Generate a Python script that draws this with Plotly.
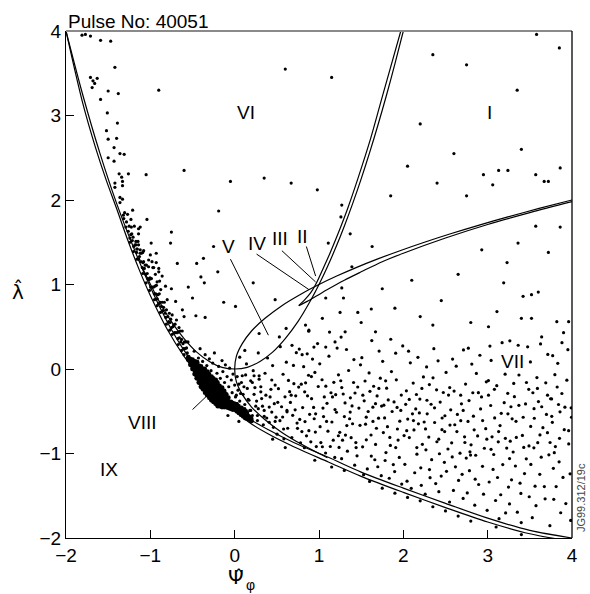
import plotly.graph_objects as go

# ---------------- curves ----------------
main_outer = [(-2.0, 4.0), (-1.8, 3.14), (-1.65, 2.62), (-1.523, 2.235), (-1.4, 1.9), (-1.268, 1.526),
              (-1.13, 1.17), (-1.0, 0.87), (-0.8, 0.47), (-0.6, 0.15), (-0.4, -0.11), (-0.2, -0.32),
              (0.0, -0.49), (0.17, -0.63), (0.4, -0.77), (0.7, -0.92), (1.11, -1.1), (1.5, -1.27),
              (2.0, -1.46), (2.5, -1.64), (3.0, -1.81), (3.5, -1.95), (4.0, -2.04)]
main_inner = [(-2.0, 4.0), (-1.8, 3.24), (-1.6, 2.56), (-1.4, 1.96), (-1.2, 1.44), (-1.0, 0.97),
              (-0.8, 0.56), (-0.6, 0.22), (-0.4, -0.05), (-0.2, -0.26), (0.0, -0.44), (0.17, -0.585),
              (0.4, -0.72), (0.7, -0.87), (1.11, -1.045), (1.5, -1.22), (2.0, -1.41), (2.5, -1.59),
              (3.0, -1.765), (3.5, -1.91), (4.0, -2.0)]
parabola_up = [(-1.1, 1.21), (-0.9, 0.81), (-0.75, 0.56), (-0.6, 0.36), (-0.45, 0.2), (-0.3, 0.09),
               (-0.15, 0.02), (0.0, 0.0), (0.15, 0.02), (0.3, 0.09), (0.45, 0.2), (0.6, 0.36),
               (0.75, 0.56), (0.9, 0.81), (1.0, 1.0), (1.1, 1.21), (1.2, 1.44), (1.3, 1.69),
               (1.4, 1.96), (1.5, 2.25), (1.6, 2.56), (1.7, 2.89), (1.8, 3.24), (1.9, 3.61), (2.0, 4.0)]
parabola_side = [(1.1, -1.05), (0.81, -0.9), (0.56, -0.75), (0.36, -0.6), (0.2, -0.45), (0.09, -0.3),
                 (0.02, -0.15), (0.0, 0.0), (0.02, 0.15), (0.09, 0.3), (0.2, 0.45), (0.36, 0.6),
                 (0.56, 0.75), (0.81, 0.9), (1.0, 1.0), (1.21, 1.1), (1.44, 1.2), (1.69, 1.3),
                 (1.96, 1.4), (2.25, 1.5), (2.56, 1.6), (2.89, 1.7), (3.24, 1.8), (3.61, 1.9), (4.0, 2.0)]
cusp_steep = [(0.76, 0.75), (0.84, 0.83), (0.9, 0.9), (0.96, 1.0), (1.04, 1.17), (1.13, 1.37),
              (1.225, 1.6), (1.34, 1.9), (1.46, 2.25), (1.61, 2.72), (1.75, 3.22), (1.97, 4.0)]
cusp_flat = [(0.76, 0.75), (0.86, 0.8), (0.98, 0.87), (1.1, 0.94), (1.3, 1.05), (1.5, 1.15),
             (1.75, 1.27), (2.0, 1.37), (2.5, 1.55), (3.0, 1.71), (3.5, 1.85), (4.0, 1.98)]

# ---------------- scattered points ----------------
pts_vi = [(-1.81, 3.95), (-1.77, 3.96), (-1.71, 3.94), (-1.59, 3.89), (-1.47, 3.88), (-1.42, 3.57),
          (-1.71, 3.45), (-1.68, 3.41), (-1.63, 3.44), (-1.66, 3.38), (-1.69, 3.33), (-1.50, 3.29),
          (-1.38, 3.26), (-1.59, 3.19), (-1.51, 3.03), (-1.39, 2.91), (-1.52, 2.82), (-1.50, 2.72),
          (-1.40, 2.73), (-1.43, 2.62), (-1.36, 2.55), (-1.31, 2.54), (-1.50, 2.50), (-1.43, 2.46),
          (-1.37, 2.31), (-1.34, 2.27), (-1.26, 2.31), (-1.05, 2.30), (-1.42, 2.20), (-1.33, 2.22),
          (-1.33, 2.17), (-1.42, 2.15), (-1.36, 2.03), (-1.33, 2.01), (-1.36, 1.97), (-1.21, 1.88),
          (-1.32, 1.82), (-1.04, 1.77), (-1.23, 1.77), (-1.14, 1.66), (-1.12, 1.68), (-1.22, 1.60),
          (-1.14, 1.60), (-1.17, 1.47), (-1.14, 1.47), (-1.16, 1.42), (-1.12, 1.41), (-0.99, 1.49),
          (-0.76, 1.49), (-1.09, 1.38), (-0.93, 1.37), (-1.08, 1.27), (-1.02, 1.29), (-0.98, 1.27),
          (-0.93, 1.26), (-0.96, 1.20), (-0.90, 1.19), (-0.94, 1.12), (-0.89, 1.04), (-0.92, 1.03),
          (-0.45, 1.25), (0.6, 3.55), (-0.19, 1.87), (-0.37, 1.31), (-0.40, 1.09), (-0.36, 1.02),
          (-0.50, 0.84), (-0.13, 0.79), (0.01, 0.74), (-0.62, 0.70), (-0.46, 0.63), (-0.35, 0.61),
          (-0.66, 0.49), (0.48, 0.82), (1.27, 1.94), (1.26, 1.80), (1.11, 1.49), (-0.05, 2.22),
          (0.35, 2.26), (0.67, 2.20), (0.98, 2.12), (-0.75, 1.62), (-0.25, 1.45), (-0.68, 1.25),
          (-0.55, 0.97), (-0.2, 1.15), (0.22, 1.02), (-0.9, 3.3), (1.15, 3.45), (-0.6, 2.35),
          (0.29, 0.42), (0.53, 0.38), (0.61, 0.48), (0.12, 0.22)]
pts_i = [(2.95, 2.30), (3.13, 2.35), (3.24, 2.35), (3.57, 2.30), (3.86, 2.38), (3.06, 2.18),
         (3.67, 2.22), (3.72, 2.22), (1.63, 1.45), (1.37, 1.60), (1.39, 1.21), (3.58, 3.96),
         (3.85, 3.80), (2.35, 3.72), (2.75, 3.60), (2.2, 2.9), (2.6, 2.55), (3.4, 2.6),
         (2.4, 2.2), (2.75, 2.05), (3.35, 3.3), (2.05, 2.4), (1.85, 2.05)]
pts_edge = [(-1.315, 1.78), (-1.305, 1.85), (-1.29, 1.68), (-1.283, 1.74), (-1.27, 1.83), (-1.262, 1.63),
            (-1.251, 1.69), (-1.243, 1.55), (-1.232, 1.59), (-1.225, 1.68), (-1.214, 1.52), (-1.205, 1.56),
            (-1.196, 1.45), (-1.19, 1.69), (-1.182, 1.47), (-1.171, 1.51), (-1.163, 1.38), (-1.155, 1.42),
            (-1.146, 1.51), (-1.138, 1.30), (-1.129, 1.33), (-1.121, 1.37), (-1.112, 1.27), (-1.104, 1.37),
            (-1.095, 1.20), (-1.088, 1.26), (-1.079, 1.40), (-1.071, 1.19), (-1.062, 1.23), (-1.054, 1.12),
            (-1.046, 1.23), (-1.037, 1.13), (-1.029, 1.07), (-1.021, 1.21), (-1.012, 1.06), (-1.004, 1.08),
            (-0.996, 0.97), (-0.987, 1.07), (-0.979, 0.97), (-0.970, 1.20), (-0.962, 0.97), (-0.953, 0.89),
            (-0.945, 0.98), (-0.936, 0.89), (-0.928, 0.99), (-0.919, 0.83), (-0.911, 0.88), (-0.902, 0.77),
            (-0.894, 0.89), (-0.885, 0.79), (-0.877, 0.94), (-0.868, 0.74), (-0.86, 0.79), (-0.851, 0.69),
            (-0.843, 0.73), (-0.834, 0.79), (-0.826, 0.66), (-0.817, 0.61), (-0.809, 0.70), (-0.80, 0.82),
            (-0.792, 0.62), (-0.783, 0.56), (-0.775, 0.66), (-0.766, 0.55), (-0.758, 0.59), (-0.749, 0.49),
            (-0.741, 0.64), (-0.732, 0.50), (-0.724, 0.52), (-0.715, 0.43), (-0.707, 0.53), (-0.698, 0.43),
            (-0.69, 0.58), (-0.681, 0.43), (-0.673, 0.36), (-0.664, 0.44), (-0.656, 0.37), (-0.647, 0.45),
            (-0.639, 0.32), (-0.630, 0.35), (-0.622, 0.45), (-0.613, 0.30), (-0.605, 0.24), (-0.596, 0.32),
            (-0.588, 0.24), (-0.579, 0.32), (-0.571, 0.25), (-0.562, 0.19), (-0.554, 0.32),
            (-1.24, 1.50), (-1.16, 1.30), (-1.09, 1.13), (-1.01, 0.93), (-0.95, 0.82), (-0.88, 0.67),
            (-0.81, 0.53), (-0.74, 0.41), (-0.67, 0.29), (-0.60, 0.17), (-1.20, 1.39), (-1.05, 1.02),
            (-0.92, 0.75), (-0.77, 0.46), (-0.63, 0.22), (-1.0, 1.35), (-0.9, 1.15), (-0.82, 0.98),
            (-0.7, 0.8), (-0.6, 0.62), (-0.86, 1.1), (-0.75, 0.95)]
pts_blob = [(-0.55, 0.11), (-0.55, 0.14), (-0.525, 0.05), (-0.52, 0.09), (-0.53, 0.12),
            (-0.50, 0.00), (-0.505, 0.04), (-0.495, 0.08), (-0.50, 0.11),
            (-0.475, -0.06), (-0.47, -0.02), (-0.48, 0.02), (-0.475, 0.06), (-0.47, 0.09),
            (-0.45, -0.11), (-0.455, -0.07), (-0.445, -0.03), (-0.45, 0.01), (-0.45, 0.05), (-0.445, 0.08),
            (-0.425, -0.16), (-0.42, -0.12), (-0.43, -0.08), (-0.425, -0.04), (-0.42, 0.00), (-0.425, 0.04),
            (-0.40, -0.21), (-0.405, -0.17), (-0.395, -0.13), (-0.40, -0.09), (-0.40, -0.05), (-0.395, -0.01), (-0.40, 0.03),
            (-0.375, -0.24), (-0.37, -0.20), (-0.38, -0.16), (-0.375, -0.12), (-0.37, -0.08), (-0.375, -0.04), (-0.38, 0.00),
            (-0.35, -0.28), (-0.355, -0.24), (-0.345, -0.20), (-0.35, -0.16), (-0.35, -0.12), (-0.345, -0.08), (-0.35, -0.04), (-0.355, 0.00),
            (-0.325, -0.31), (-0.32, -0.27), (-0.33, -0.23), (-0.325, -0.19), (-0.32, -0.15), (-0.325, -0.11), (-0.33, -0.07), (-0.325, -0.03),
            (-0.30, -0.34), (-0.305, -0.30), (-0.295, -0.26), (-0.30, -0.22), (-0.30, -0.18), (-0.295, -0.14), (-0.30, -0.10), (-0.305, -0.06),
            (-0.275, -0.37), (-0.27, -0.33), (-0.28, -0.29), (-0.275, -0.25), (-0.27, -0.21), (-0.275, -0.17), (-0.28, -0.13), (-0.275, -0.09),
            (-0.25, -0.39), (-0.255, -0.35), (-0.245, -0.31), (-0.25, -0.27), (-0.25, -0.23), (-0.245, -0.19), (-0.25, -0.15), (-0.255, -0.11),
            (-0.225, -0.41), (-0.22, -0.37), (-0.23, -0.33), (-0.225, -0.29), (-0.22, -0.25), (-0.225, -0.21), (-0.23, -0.16), (-0.225, -0.13),
            (-0.20, -0.44), (-0.205, -0.40), (-0.195, -0.36), (-0.20, -0.32), (-0.20, -0.28), (-0.195, -0.24), (-0.20, -0.19), (-0.205, -0.16),
            (-0.175, -0.44), (-0.17, -0.40), (-0.18, -0.36), (-0.175, -0.32), (-0.17, -0.28), (-0.175, -0.24), (-0.18, -0.20),
            (-0.15, -0.45), (-0.155, -0.41), (-0.145, -0.37), (-0.15, -0.33), (-0.15, -0.29), (-0.145, -0.25), (-0.15, -0.22),
            (-0.125, -0.45), (-0.12, -0.41), (-0.13, -0.37), (-0.125, -0.33), (-0.12, -0.29), (-0.125, -0.26),
            (-0.10, -0.45), (-0.105, -0.41), (-0.095, -0.37), (-0.10, -0.33), (-0.10, -0.30),
            (-0.075, -0.46), (-0.07, -0.42), (-0.08, -0.38), (-0.075, -0.34),
            (-0.05, -0.47), (-0.055, -0.43), (-0.045, -0.39),
            (-0.025, -0.48), (-0.02, -0.44), (-0.03, -0.40),
            (0.0, -0.48), (0.005, -0.44), (-0.005, -0.41),
            (0.025, -0.50), (0.03, -0.46), (0.02, -0.42),
            (0.05, -0.52), (0.055, -0.48), (0.045, -0.44),
            (0.075, -0.54), (0.07, -0.50), (0.08, -0.46),
            (0.10, -0.56), (0.105, -0.52), (0.095, -0.48),
            (0.125, -0.58), (0.12, -0.54), (0.13, -0.50),
            (0.15, -0.59), (0.155, -0.555), (0.145, -0.52),
            (0.175, -0.60), (0.17, -0.565), (0.20, -0.615), (0.195, -0.585)]
pts_near = [(-0.48, 0.21), (-0.43, 0.13), (-0.41, 0.24), (-0.38, 0.09), (-0.35, 0.17), (-0.33, 0.04),
            (-0.30, 0.12), (-0.28, -0.02), (-0.26, 0.07), (-0.24, 0.19), (-0.21, -0.05), (-0.19, 0.03),
            (-0.17, -0.11), (-0.15, 0.10), (-0.14, -0.03), (-0.12, -0.16), (-0.11, 0.05), (-0.09, -0.09),
            (-0.07, -0.21), (-0.06, 0.01), (-0.04, -0.13), (-0.03, -0.28), (-0.02, -0.06), (0.00, -0.19),
            (0.01, -0.33), (0.03, -0.09), (0.04, -0.25), (0.06, -0.38), (0.08, -0.16), (0.10, -0.30),
            (0.12, -0.42), (0.13, -0.07), (0.15, -0.23), (0.17, -0.37), (0.19, -0.49), (0.21, -0.16),
            (0.23, -0.30), (0.25, -0.44), (0.27, -0.55), (0.29, -0.08), (-0.46, -0.05), (-0.36, -0.22),
            (-0.22, -0.42), (-0.08, -0.55), (0.05, -0.62)]
pts_vii = [
    # 0.0 - 0.5
    (0.03, -0.41), (0.07, -0.29), (0.12, -0.47), (0.05, -0.18), (0.16, -0.36), (0.21, -0.55), (0.09, -0.08),
    (0.24, -0.22), (0.18, -0.49), (0.02, -0.31), (0.27, -0.61), (0.33, -0.44), (0.29, -0.12), (0.38, -0.58),
    (0.42, -0.33), (0.31, -0.27), (0.46, -0.69), (0.36, -0.05), (0.44, -0.51), (0.26, -0.38), (0.48, -0.19),
    (0.14, 0.06), (0.39, 0.13), (0.34, -0.66), (0.47, -0.41), (0.22, -0.02), (0.41, -0.63), (0.11, -0.21),
    (0.28, 0.19), (0.45, 0.04), (0.35, -0.49), (0.19, -0.14), (0.43, -0.24), (0.06, 0.14), (0.49, -0.57),
    (0.32, -0.35), (0.31, -0.21), (0.37, -0.31), (0.44, -0.13), (0.28, -0.47), (0.41, -0.45),
    (0.23, -0.08), (0.48, -0.62), (0.35, -0.56),
    # 0.5 - 0.75
    (0.537, -0.612), (0.702, -0.174), (0.584, -0.826), (0.661, -0.395), (0.519, -0.233), (0.745, -0.702),
    (0.613, 0.081), (0.688, -0.548), (0.556, -0.447), (0.629, -0.701), (0.731, 0.193), (0.574, -0.062),
    (0.652, -0.268), (0.503, -0.771), (0.717, -0.483), (0.597, -0.329), (0.678, -0.812), (0.541, 0.264),
    (0.638, -0.135), (0.724, -0.318), (0.569, -0.568), (0.697, 0.042), (0.621, -0.507), (0.511, -0.394),
    # 0.75 - 1.0
    (0.781, -0.873), (0.912, -0.351), (0.834, -0.622), (0.968, -0.918), (0.759, -0.214), (0.876, -0.074),
    (0.943, -0.589), (0.806, -0.456), (0.991, -0.207), (0.852, -0.791), (0.923, 0.118), (0.772, -0.597),
    (0.889, -0.536), (0.957, -0.746), (0.818, 0.027), (0.864, -0.318), (0.936, -0.455), (0.797, -0.741),
    (0.983, 0.301), (0.841, -0.164), (0.903, -0.862), (0.766, 0.236), (0.951, -0.041), (0.827, -0.932),
    (0.878, 0.447),
    # 1.0 - 1.25
    (1.013, -0.683), (1.142, -0.281), (1.078, -0.994), (1.207, -0.512), (1.036, -0.127), (1.169, -0.842),
    (1.095, -0.406), (1.231, -0.069), (1.054, -0.563), (1.187, -1.047), (1.118, 0.152), (1.022, -0.871),
    (1.246, -0.749), (1.081, -0.203), (1.153, -0.627), (1.215, 0.248), (1.063, -0.331), (1.134, -0.917),
    (1.198, -0.304), (1.009, 0.061), (1.176, -0.158), (1.106, -0.736), (1.238, -0.928), (1.047, -0.462),
    (1.125, 0.437),
    # 1.25 - 1.5
    (1.268, -1.061), (1.392, -0.437), (1.314, -0.782), (1.459, -0.213), (1.287, -0.296), (1.423, -1.138),
    (1.351, -0.018), (1.486, -0.667), (1.301, -0.563), (1.437, -0.871), (1.372, -0.341), (1.258, -0.139),
    (1.414, 0.112), (1.337, -0.972), (1.473, -0.462), (1.279, -0.842), (1.398, -0.648), (1.326, 0.231),
    (1.451, -1.027), (1.363, -0.589), (1.492, 0.049), (1.309, -0.401), (1.427, -0.284), (1.381, -0.813),
    (1.262, 0.378),
    # 1.5 - 1.75
    (1.517, -0.921), (1.648, -0.204), (1.573, -1.183), (1.706, -0.582), (1.536, -0.377), (1.671, -0.893),
    (1.594, -0.047), (1.738, -1.262), (1.552, -0.653), (1.689, -0.319), (1.617, -0.781), (1.508, 0.134),
    (1.727, -0.108), (1.583, -0.503), (1.662, -1.074), (1.529, -1.251), (1.713, 0.212), (1.604, -0.264),
    (1.681, -0.701), (1.546, -0.142), (1.742, -0.439), (1.626, 0.336), (1.561, -0.838), (1.697, -1.157),
    (1.639, -0.452),
    # 1.75 - 2.0
    (1.763, -0.752), (1.897, -1.214), (1.821, -0.366), (1.958, -0.617), (1.784, -1.083), (1.917, -0.128),
    (1.846, -0.904), (1.981, -1.362), (1.802, -0.227), (1.938, -0.841), (1.867, -0.503), (1.755, 0.091),
    (1.976, -0.309), (1.833, -1.293), (1.909, 0.187), (1.778, -0.579), (1.952, -1.047), (1.859, -0.031),
    (1.812, -0.682), (1.993, 0.273), (1.881, -1.131), (1.769, -0.428), (1.926, -0.455), (1.851, 0.352),
    (1.794, -0.989),
    # 2.0 - 2.25
    (2.018, -1.128), (2.147, -0.472), (2.071, -0.811), (2.213, -1.377), (2.036, -0.258), (2.179, -0.649),
    (2.094, -1.412), (2.238, -0.094), (2.052, -0.593), (2.161, -1.008), (2.117, -0.167), (2.009, -0.788),
    (2.226, -0.892), (2.083, 0.073), (2.135, -1.228), (2.196, -0.356), (2.044, -1.327), (2.108, -0.531),
    (2.247, -0.627), (2.062, 0.211), (2.173, 0.138), (2.126, -0.721), (2.207, -1.169), (2.028, -0.418),
    (2.155, -0.302),
    # 2.25 - 2.5
    (2.268, -0.957), (2.394, -0.247), (2.317, -1.286), (2.458, -0.718), (2.283, -0.531), (2.421, -1.452),
    (2.352, -0.104), (2.487, -1.104), (2.302, -0.806), (2.437, -0.392), (2.371, -0.633), (2.259, -1.481),
    (2.412, 0.097), (2.336, -1.073), (2.474, -0.278), (2.276, 0.024), (2.398, -0.861), (2.329, -0.417),
    (2.449, -1.267), (2.362, 0.241), (2.493, -0.553), (2.309, -0.184), (2.428, -1.003), (2.384, -1.356),
    (2.263, -0.709),
    # 2.5 - 2.75
    (2.512, -1.211), (2.641, -0.538), (2.573, -0.874), (2.709, -1.532), (2.536, -0.309), (2.672, -0.996),
    (2.594, -1.437), (2.738, -0.178), (2.553, -0.664), (2.689, -0.412), (2.618, -1.158), (2.507, -0.041),
    (2.726, -0.803), (2.584, 0.117), (2.655, -1.319), (2.529, -0.947), (2.713, 0.226), (2.602, -0.261),
    (2.681, -0.612), (2.548, -1.574), (2.746, -1.054), (2.627, 0.034), (2.562, -0.483), (2.697, -1.246),
    (2.635, -0.741),
    # 2.75 - 3.0
    (2.767, -0.621), (2.893, -1.367), (2.824, -0.281), (2.961, -0.938), (2.784, -1.203), (2.916, -0.473),
    (2.847, -1.612), (2.984, -0.152), (2.803, -0.897), (2.939, -1.152), (2.866, -0.052), (2.758, -1.466),
    (2.977, -0.706), (2.831, -0.558), (2.908, 0.163), (2.779, -0.374), (2.951, -1.481), (2.858, -1.021),
    (2.812, 0.058), (2.994, -1.673), (2.881, -0.792), (2.771, 0.246), (2.927, -0.331), (2.852, -1.304),
    (2.797, -1.019),
    # 3.0 - 3.25
    (3.018, -1.337), (3.147, -0.669), (3.072, -1.012), (3.213, -1.703), (3.036, -0.432), (3.179, -1.131),
    (3.094, -1.556), (3.238, -0.288), (3.052, -0.803), (3.161, -0.524), (3.117, -1.284), (3.009, -0.137),
    (3.226, -0.936), (3.041, 0.102), (3.135, -1.771), (3.196, -0.398), (3.064, -1.189), (3.108, -0.197),
    (3.247, -1.397), (3.027, 0.271), (3.171, 0.312), (3.126, -0.862), (3.207, -0.061), (3.083, -0.579),
    (3.155, -1.488),
    # 3.25 - 3.5
    (3.268, -0.854), (3.394, -1.472), (3.317, -0.327), (3.458, -1.063), (3.283, -1.311), (3.421, -0.571),
    (3.352, -1.694), (3.487, -0.241), (3.302, -0.982), (3.437, -1.238), (3.371, -0.071), (3.259, -1.597),
    (3.412, -0.786), (3.336, -0.619), (3.474, 0.262), (3.276, -0.447), (3.398, -1.817), (3.329, -1.148),
    (3.449, -0.413), (3.362, 0.281), (3.493, -1.512), (3.309, -0.171), (3.428, -0.928), (3.384, -1.351),
    (3.263, 0.334),
    # 3.5 - 3.75
    (3.512, -1.129), (3.641, -0.447), (3.573, -1.618), (3.709, -0.753), (3.536, -0.281), (3.672, -1.392),
    (3.594, -0.872), (3.738, -1.854), (3.553, -0.583), (3.689, -0.164), (3.618, -1.247), (3.507, 0.084),
    (3.726, -1.016), (3.584, -0.102), (3.655, -0.694), (3.529, -1.759), (3.713, 0.173), (3.602, -0.386),
    (3.681, -1.536), (3.548, -0.933), (3.746, -0.352), (3.627, 0.297), (3.562, -1.387), (3.697, -0.537),
    (3.635, -1.043),
    # 3.75 - 4.0
    (3.767, -0.631), (3.893, -1.283), (3.824, -0.213), (3.961, -0.887), (3.784, -1.542), (3.916, -0.452),
    (3.847, -1.098), (3.984, -1.792), (3.803, -0.918), (3.939, -0.132), (3.866, -1.701), (3.758, -0.354),
    (3.977, -1.241), (3.831, 0.067), (3.908, -0.718), (3.779, -1.176), (3.951, 0.229), (3.858, -0.507),
    (3.812, -1.392), (3.994, -0.571), (3.881, 0.311), (3.771, 0.158), (3.927, -1.593), (3.852, -0.821),
    (3.797, -0.067)]
pts_vii_core = [(0.58, -0.71), (0.83, -0.27), (1.19, -0.48), (1.44, -0.93), (1.71, -0.23), (1.93, -0.71),
                (2.16, -0.93), (2.37, -0.46), (2.61, -0.66), (2.89, -0.28), (3.13, -0.74), (3.37, -0.43),
                (3.62, -0.78), (3.88, -0.29), (0.67, -0.31), (0.96, -0.53), (1.27, -0.22), (1.56, -0.57),
                (1.84, -0.81), (2.07, -0.36), (2.31, -1.19), (2.55, -0.22), (2.79, -0.98), (3.04, -0.95),
                (3.29, -0.59), (3.55, -0.47), (3.79, -0.99), (0.74, -0.64), (1.04, -0.92), (1.33, -0.67),
                (1.62, -1.03), (1.89, -0.39), (2.12, -0.61), (2.42, -0.83), (2.68, -0.31), (2.94, -0.61),
                (3.21, -0.82), (3.46, -0.16), (3.71, -0.31), (3.96, -0.73), (0.88, -0.73), (1.16, -0.33),
                (1.41, -0.16), (1.67, -0.41), (1.97, -0.49), (2.22, -0.23), (2.49, -0.74), (2.73, -0.87),
                (3.01, -0.31), (3.26, -1.06), (3.51, -0.68), (3.76, -0.56), (0.62, -0.49), (0.91, -0.09),
                (1.23, -0.79), (1.52, -0.31), (1.79, -0.14), (2.04, -0.73), (2.28, -0.37), (2.58, -1.04),
                (2.84, -0.72), (3.08, -0.24), (3.34, -0.81), (3.59, -0.23), (3.84, -0.42), (0.79, -0.18),
                (1.09, -0.62), (1.37, -0.51), (1.64, -0.62), (1.91, -0.93), (2.19, -0.52), (2.46, -0.58),
                (2.71, -0.49), (2.99, -0.83), (3.24, -0.53), (3.49, -0.91), (3.74, -0.87), (3.99, -0.46)]
pts_vii_sparse = [(1.27, 0.96), (1.29, 0.84), (1.04, 0.60), (1.25, 0.67), (1.46, 0.67), (1.62, 0.71),
                  (1.50, 0.55), (1.67, 0.44), (1.31, 0.44), (1.19, 0.32), (1.08, 0.26), (0.94, 0.26),
                  (0.80, 0.17), (0.86, 0.18), (1.08, 0.84), (0.68, 0.28), (0.84, 0.52), (0.88, 0.46),
                  (2.93, 1.41), (3.86, 1.68), (3.57, 1.69), (3.36, 1.49), (3.72, 1.38), (3.23, 1.26),
                  (3.19, 1.02), (3.42, 0.86), (3.52, 0.88), (3.60, 0.91), (3.11, 0.68), (3.40, 0.60),
                  (3.52, 0.60), (3.82, 0.56), (3.96, 0.56), (3.01, 0.50), (3.64, 0.38), (3.90, 0.43),
                  (2.2, 0.62), (2.45, 0.81), (1.9, 0.72), (2.65, 1.12), (2.1, 1.05), (2.8, 0.55),
                  (1.75, 0.95), (2.35, 0.52)]
pts_below = [(0.95, -1.08), (1.3, -1.2), (1.6, -1.33), (1.9, -1.47), (2.2, -1.56), (2.5, -1.68),
             (2.8, -1.8), (1.15, -1.16), (2.05, -1.52), (2.65, -1.74), (3.1, -1.87), (0.6, -0.93),
             (1.75, -1.41), (2.35, -1.63), (3.4, -1.96), (0.45, -0.83)]

# ---------------- region labels ----------------
region_names = ["VI", "I", "VII", "VIII", "IX", "V", "IV", "III", "II"]
region_x = [0.14, 3.02, 3.30, -1.09, -1.49, -0.07, 0.27, 0.54, 0.80]
region_y = [3.04, 3.04, 0.09, -0.63, -1.19, 1.45, 1.49, 1.54, 1.57]
leader_lines = [((-0.05, 1.30), (0.40, 0.40)), ((0.26, 1.36), (0.88, 0.94)),
                ((0.56, 1.40), (0.96, 1.03)), ((0.85, 1.45), (0.96, 1.10)),
                ((-0.50, -0.48), (-0.30, -0.29))]

fig = go.Figure()


def add_curve(pts, width=1.2):
    xs, ys = zip(*pts)
    fig.add_trace(go.Scatter(x=list(xs), y=list(ys), mode="lines",
                             line=dict(color="black", width=width, shape="spline", smoothing=0.9),
                             hoverinfo="skip"))


for c in (main_outer, main_inner, parabola_up, parabola_side, cusp_steep, cusp_flat):
    add_curve(c)

for (a, b) in leader_lines:
    fig.add_trace(go.Scatter(x=[a[0], b[0]], y=[a[1], b[1]], mode="lines",
                             line=dict(color="black", width=1), hoverinfo="skip"))

small = pts_vi + pts_i + pts_edge + pts_near + pts_vii + pts_vii_core + pts_vii_sparse + pts_below
sx, sy = zip(*small)
fig.add_trace(go.Scatter(x=list(sx), y=list(sy), mode="markers",
                         marker=dict(color="black", size=3.2, line=dict(width=0))))
bx, by = zip(*pts_blob)
fig.add_trace(go.Scatter(x=list(bx), y=list(by), mode="markers",
                         marker=dict(color="black", size=4.8, line=dict(width=0))))


def paper_text(x, y, text, size, color="black", angle=0, family=None):
    f = dict(size=size, color=color)
    if family:
        f["family"] = family
    return dict(x=x, y=y, xref="paper", yref="paper", text=text, showarrow=False,
                xanchor="center", yanchor="middle", textangle=angle, font=f)


annotations = []
for name, x, y in zip(region_names, region_x, region_y):
    annotations.append(dict(x=x, y=y, xref="x", yref="y", text=name, showarrow=False,
                            xanchor="center", yanchor="middle",
                            font=dict(size=19, color="black")))
annotations += [
    dict(x=0, y=1, xref="paper", yref="paper", text="Pulse No: 40051", showarrow=False,
         xanchor="left", yanchor="bottom", yshift=-3, font=dict(size=19, color="black")),
    paper_text(-0.094, 0.487, "\u03bb\u0302", 20, family="DejaVu Sans"),
    paper_text(0.336, -0.076, "\u03a8\u0302", 20, family="DejaVu Sans"),
    paper_text(0.364, -0.093, "\u03c6", 14),
    paper_text(1.018, 0.079, "JG99.312/19c", 11, "#444444", -90),
]

axis_common = dict(range=[-2, 4], tickvals=[-2, -1, 0, 1, 2, 3, 4], ticks="inside", ticklen=8,
                   tickwidth=1, tickcolor="black", showgrid=False, zeroline=False,
                   showline=True, linecolor="black", linewidth=1.3, mirror=False,
                   tickfont=dict(size=19, color="black"))

fig.update_layout(
    width=590, height=594,
    margin=dict(l=66, r=16, t=31, b=56),
    paper_bgcolor="white", plot_bgcolor="white",
    showlegend=False,
    font=dict(family="Liberation Sans, Arial, sans-serif", color="black"),
    xaxis=axis_common,
    yaxis=axis_common,
    annotations=annotations,
    shapes=[
        dict(type="line", xref="paper", yref="paper", x0=0, x1=1, y0=1, y1=1,
             line=dict(color="#8a8a8a", width=2)),
        dict(type="line", xref="paper", yref="paper", x0=1, x1=1, y0=0, y1=1,
             line=dict(color="black", width=1.3)),
    ],
)

fig.write_html("out.html", config={"displayModeBar": False},
               post_script="document.body.style.margin='0';document.body.style.overflow='hidden';")
